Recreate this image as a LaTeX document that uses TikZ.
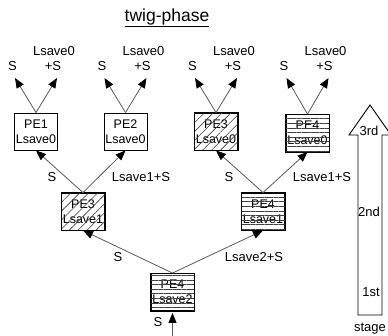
\documentclass[tikz,border=0pt]{standalone}
\usepackage{fontspec}
\setmainfont{Liberation Sans}
\usetikzlibrary{arrows.meta,patterns.meta}

\begin{document}
\begin{tikzpicture}[x=1pt,y=-1pt,
  pe/.style={draw=black, line width=0.9pt, minimum width=43pt, minimum height=37pt,
    inner sep=0pt, align=center, font=\fontsize{12.5}{15}\selectfont, fill=white},
  lbl/.style={font=\fontsize{13}{15}\selectfont, inner sep=0pt},
  link/.style={draw=black!65, line width=0.8pt, -{Triangle[length=10pt,width=8pt,black]}},
  diag/.style={pattern={Lines[angle=45,distance=6.3pt,line width=0.6pt]}, pattern color=black!75},
  horiz/.style={pattern={Lines[angle=0,distance=4.6pt,line width=0.6pt]}, pattern color=black!75},
  stagearrow/.style={draw=black, line width=0.9pt, fill=white}
]
\useasboundingbox (0,0) rectangle (388,335);

% title
\node[font=\fontsize{17.5}{20}\selectfont, inner sep=0pt] (title) at (167,18) {\underline{twig-phase}};

% processing elements
\node[pe] (a1) at (36,131.5) {PE1\\Lsave0};
\node[pe] (a2) at (125.5,131.5) {PE2\\Lsave0};
\node[pe] (a3) at (216,131.5) {PE3\\Lsave0};
\node[pe] (a4) at (307.5,133) {PE4\\Lsave0};
\node[pe] (b1) at (83,211.5) {PE3\\Lsave1};
\node[pe] (b2) at (263,211.5) {PE4\\Lsave1};
\node[pe] (c1) at (172.5,292) {PE4\\Lsave2};

% hatching drawn over the boxes
\path[diag] (a3.north west) rectangle (a3.south east);
\path[horiz] (a4.north west) rectangle (a4.south east);
\path[diag] (b1.north west) rectangle (b1.south east);
\path[horiz] (b2.north west) rectangle (b2.south east);
\path[horiz] (c1.north west) rectangle (c1.south east);
\foreach \n in {a3,a4,b1,b2,c1}
  \draw[line width=0.9pt] (\n.north west) rectangle (\n.south east);

% output arrows of the top row, with their free ends
\foreach \n/\x in {a1/36,a2/125.5,a3/216,a4/307.5}{
  \coordinate (\n l) at (\x-21,78);
  \coordinate (\n r) at (\x+21,78);
  \draw[link] (\n.north) -- (\n l);
  \draw[link] (\n.north) -- (\n r);
  \node[lbl] at (\x-23.5,66) {S};
  \node[lbl] at (\x+17,66) {+S};
  \node[lbl] at (\x+18,51) {Lsave0};
}

% tree connectors
\draw[link] (b1.north) -- (a1.south);
\draw[link] (b1.north) -- (a2.south);
\draw[link] (b2.north) -- (a3.south);
\draw[link] (b2.north) -- (a4.south);
\draw[link] (c1.north) -- (b1.south);
\draw[link] (c1.north) -- (b2.south);
\coordinate (in) at (172.5,336);
\draw[link] (in) -- ([yshift=-2pt]c1.south);

\node[lbl] at (52,177) {S};
\node[lbl] at (141,177) {Lsave1+S};
\node[lbl] at (229,177) {S};
\node[lbl] at (322,177) {Lsave1+S};
\node[lbl] at (118,257) {S};
\node[lbl] at (254,257) {Lsave2+S};
\node[lbl] at (158,322) {S};

% stage arrow
\draw[stagearrow] (358,315) -- (382,315) -- (382,135) -- (391,135) -- (370,105)
  -- (349,135) -- (358,135) -- cycle;
\node[lbl] at (369,131) {3rd};
\node[lbl] at (369,212) {2nd};
\node[lbl] at (371,292) {1st};
\node[lbl] at (370,329) {stage};
\end{tikzpicture}
\end{document}
